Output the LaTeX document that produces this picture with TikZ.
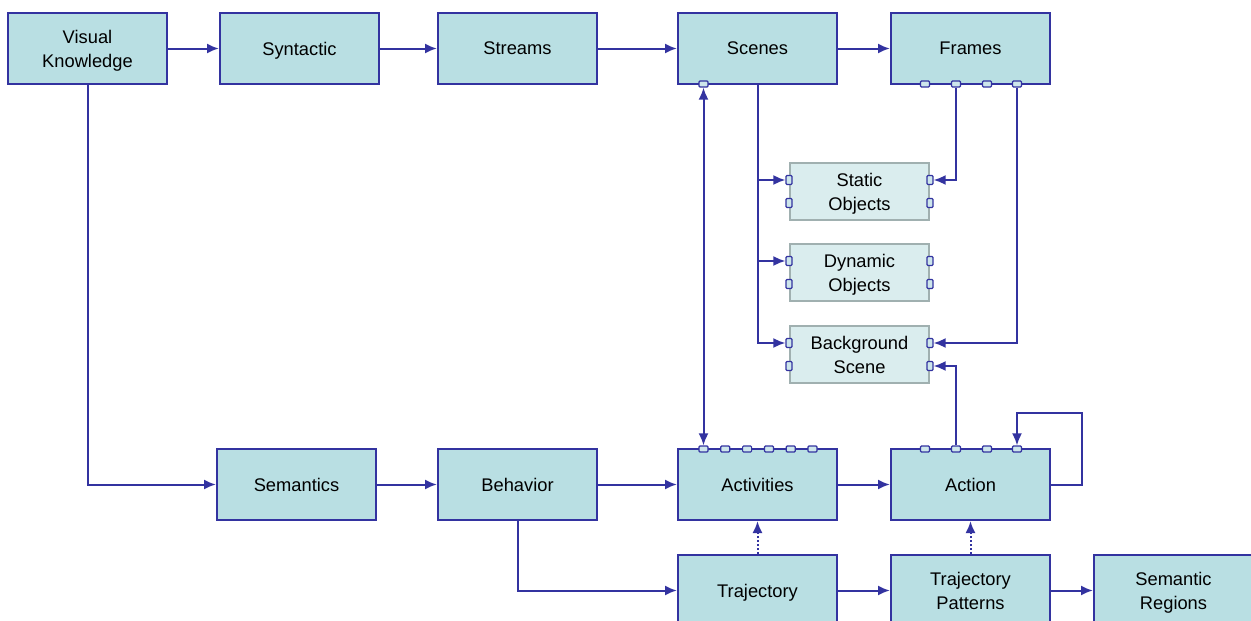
\documentclass[tikz,border=0pt]{standalone}
\usepackage{fontspec}
\setmainfont{Liberation Sans}
\usetikzlibrary{shapes,arrows.meta}

\definecolor{boxfill}{RGB}{185,223,227}
\definecolor{boxline}{RGB}{51,51,160}
\definecolor{objfill}{RGB}{218,237,238}
\definecolor{objline}{RGB}{160,176,176}
\definecolor{portfill}{RGB}{205,230,235}

\begin{document}
\begin{tikzpicture}[x=1pt,y=-1pt,
  every node/.style={font=\fontsize{18.3}{24}\selectfont},
  stage/.style={draw=boxline,fill=boxfill,line width=2pt,minimum width=159pt,
    minimum height=71pt,align=center,inner sep=0pt,text depth=-1.5pt},
  object/.style={draw=objline,fill=objfill,line width=2pt,minimum width=139pt,
    minimum height=57pt,align=center,inner sep=0pt,text depth=-1.5pt},
  port/.style={draw=boxline,fill=portfill,line width=1.2pt,rounded corners=1pt,
    inner sep=0pt,minimum width=9pt,minimum height=6pt},
  vport/.style={port,minimum width=6pt,minimum height=9pt},
  link/.style={draw=boxline,line width=2pt,-{Latex[length=12pt,width=10pt]}},
  hint/.style={link,dotted}]
  \useasboundingbox (0,0) rectangle (1251,621);
  \clip (0,0) rectangle (1251,621);

  % syntactic row
  \node[stage] (vk) at (87.5,48.5) {Visual\\Knowledge};
  \node[stage] (syn) at (299.5,48.5) {Syntactic};
  \node[stage] (str) at (517.5,48.5) {Streams};
  \node[stage] (scn) at (757.5,48.5) {Scenes};
  \node[stage] (frm) at (970.5,48.5) {Frames};

  % scene content
  \node[object] (sta) at (859.5,191.5) {Static\\Objects};
  \node[object] (dyn) at (859.5,272.5) {Dynamic\\Objects};
  \node[object] (bgs) at (859.5,354.5) {Background\\Scene};

  % semantic rows
  \node[stage] (sem) at (296.5,484.5) {Semantics};
  \node[stage] (beh) at (517.5,484.5) {Behavior};
  \node[stage] (act) at (757.5,484.5) {Activities};
  \node[stage] (acn) at (970.5,484.5) {Action};
  \node[stage] (trj) at (757.5,590.5) {Trajectory};
  \node[stage] (tpat) at (970.5,590.5) {Trajectory\\Patterns};
  \node[stage] (sreg) at (1173.5,590.5) {Semantic\\Regions};

  % ports
  \node[port] (scn-p) at (703.5,84) {};
  \foreach \i/\x in {1/925,2/956,3/987,4/1017}
    {
      \node[port] (frm-p\i) at (\x,84) {};
      \node[port] (acn-p\i) at (\x,449) {};
    }
  \foreach \i in {0,...,5}
    \node[port] (act-p\i) at (703.5+21.8*\i,449) {};
  \foreach \o in {sta,dyn,bgs}
    {
      \node[vport] (\o-l1) at ([yshift=11.5pt]\o.west) {};
      \node[vport] (\o-l2) at ([yshift=-11.5pt]\o.west) {};
      \node[vport] (\o-r1) at ([yshift=11.5pt]\o.east) {};
      \node[vport] (\o-r2) at ([yshift=-11.5pt]\o.east) {};
    }
  \coordinate (loop) at (1082,413);

  % connectors
  \draw[link] (vk) -- (syn);
  \draw[link] (syn) -- (str);
  \draw[link] (str) -- (scn);
  \draw[link] (scn) -- (frm);
  \draw[link] (vk) |- (sem);
  \draw[link] (sem) -- (beh);
  \draw[link] (beh) -- (act);
  \draw[link] (act) -- (acn);
  \draw[link] (beh) |- (trj);
  \draw[link] (trj) -- (tpat);
  \draw[link] (tpat) -- (sreg);
  \draw[hint] (trj) -- (act);
  \draw[hint] (tpat) -- (acn);
  \draw[link,{Latex[length=12pt,width=10pt]}-{Latex[length=12pt,width=10pt]}] (act-p0) -- (scn-p);
  \draw[link] (scn) |- (sta-l1);
  \draw[link] (scn) |- (dyn-l1);
  \draw[link] (scn) |- (bgs-l1);
  \draw[link] (frm-p2) |- (sta-r1);
  \draw[link] (frm-p4) |- (bgs-r1);
  \draw[link] (acn-p2) |- (bgs-r2);
  \draw[link] (acn.east) -| (loop) -| (acn-p4);
\end{tikzpicture}
\end{document}
